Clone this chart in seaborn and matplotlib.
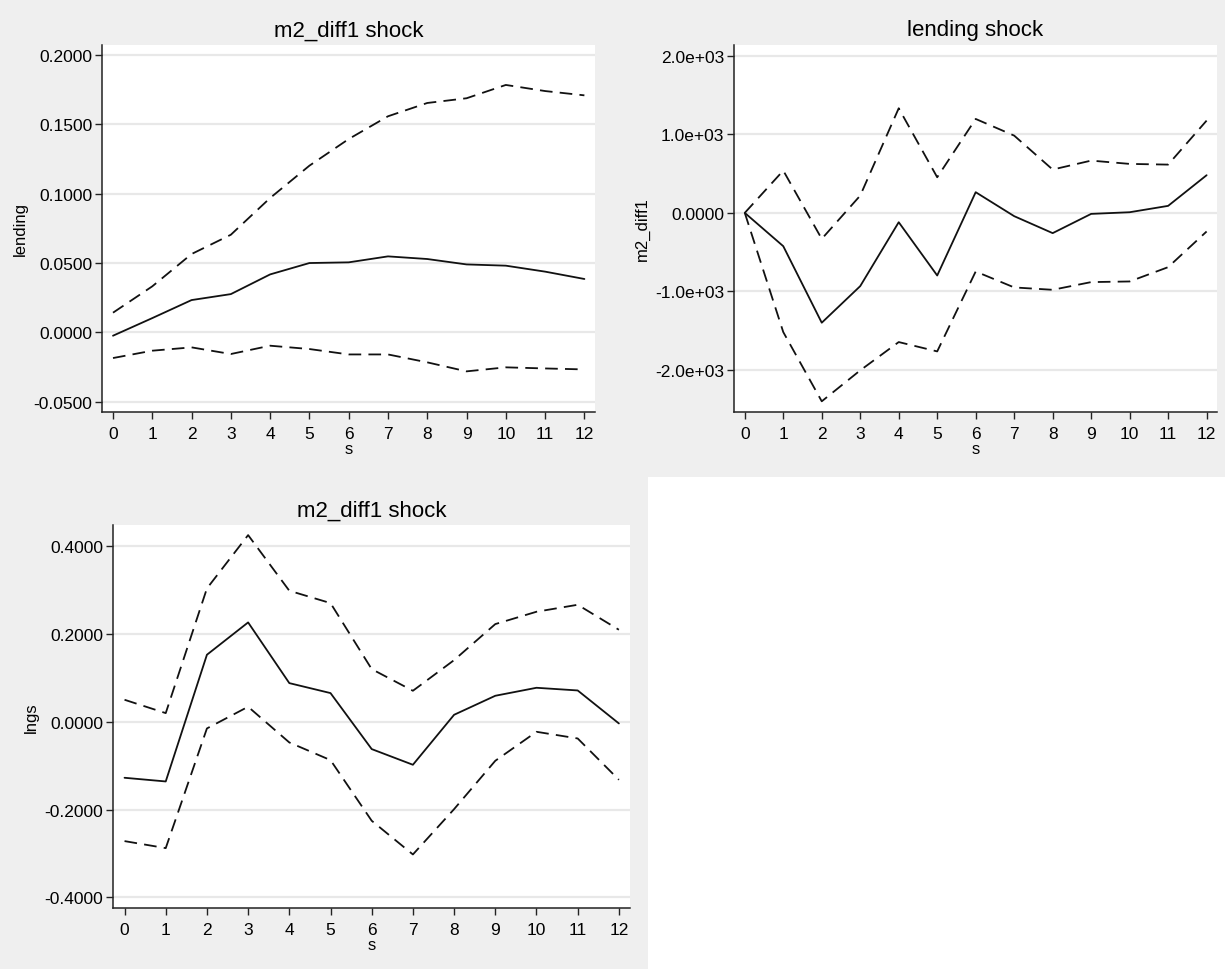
import numpy as np
import pandas as pd
import matplotlib
matplotlib.use("Agg")
import matplotlib.pyplot as plt
import matplotlib.ticker as mticker
from matplotlib.patches import Rectangle
import seaborn as sns

# horizon
steps = list(range(13))

# panel 1: m2_diff1 shock -> lending
lend_irf = [-0.0024, 0.0103, 0.0233, 0.0276, 0.0418, 0.0500, 0.0505, 0.0548,
            0.0529, 0.0490, 0.0481, 0.0438, 0.0385]
lend_hi = [0.0142, 0.0332, 0.0565, 0.0704, 0.0969, 0.1202, 0.1394, 0.1558,
           0.1654, 0.1688, 0.1784, 0.1740, 0.1709]
lend_lo = [-0.0185, -0.0132, -0.0108, -0.0156, -0.0096, -0.0120, -0.0159,
           -0.0159, -0.0216, -0.0281, -0.0252, -0.0260, -0.0267]

# panel 2: lending shock -> m2_diff1
m2_irf = [0, -424, -1398, -932, -119, -797, 263, -42, -258, -13, 8, 89, 479]
m2_hi = [0, 538, -331, 220, 1331, 453, 1195, 983, 551, 665, 623, 614, 1174]
m2_lo = [0, -1517, -2398, -2004, -1644, -1763, -746, -949, -979, -881, -873,
         -691, -237]

# panel 3: m2_diff1 shock -> lngs
lngs_irf = [-0.1275, -0.1359, 0.1526, 0.2262, 0.0880, 0.0653, -0.0622, -0.0979,
            0.0159, 0.0592, 0.0774, 0.0713, -0.0038]
lngs_hi = [0.0501, 0.0197, 0.3036, 0.4250, 0.2983, 0.2702, 0.1199, 0.0706,
           0.1404, 0.2224, 0.2505, 0.2664, 0.2095]
lngs_lo = [-0.2717, -0.2877, -0.0152, 0.0342, -0.0471, -0.0873, -0.2254,
           -0.3021, -0.1989, -0.0888, -0.0228, -0.0380, -0.1321]

sns.set_theme(style="white")
plt.rcParams['font.family'] = ['Liberation Sans', 'DejaVu Sans']
plt.rcParams['text.color'] = 'black'
plt.rcParams['axes.labelcolor'] = 'black'
plt.rcParams['xtick.color'] = 'black'
plt.rcParams['ytick.color'] = 'black'

W, H = 1225, 970
bg = '#efefef'
fig = plt.figure(figsize=(W / 100, H / 100), dpi=100, facecolor=bg)

# white empty area bottom-right
fig.patches.append(Rectangle((648 / W, 0), 1 - 648 / W, (H - 478) / H,
                             transform=fig.transFigure, facecolor='white',
                             edgecolor='none', zorder=0))


def px_axes(left, top, right, bottom):
    return fig.add_axes([left / W, 1 - bottom / H, (right - left) / W, (bottom - top) / H])


def fmt_m2(v, pos):
    if abs(v) < 1e-9:
        return "0.0000"
    return "%.1e" % v


panels = [
    (px_axes(102, 46, 595, 413), "m2_diff1 shock", "lending",
     lend_irf, lend_hi, lend_lo, (-0.0574, 0.2072),
     [-0.05, 0, 0.05, 0.10, 0.15, 0.20], mticker.FormatStrFormatter('%.4f')),
    (px_axes(734, 46, 1217, 413), "lending shock", "m2_diff1",
     m2_irf, m2_hi, m2_lo, (-2534, 2136),
     [-2000, -1000, 0, 1000, 2000], mticker.FuncFormatter(fmt_m2)),
    (px_axes(113, 526, 630, 909), "m2_diff1 shock", "lngs",
     lngs_irf, lngs_hi, lngs_lo, (-0.424, 0.448),
     [-0.4, -0.2, 0, 0.2, 0.4], mticker.FormatStrFormatter('%.4f')),
]

line_col = '#111111'
for ax, title, ylab, irf, hi, lo, ylim, yt, yfmt in panels:
    ax.set_facecolor('white')
    for ys in (hi, lo):
        sns.lineplot(x=steps, y=ys, ax=ax, color=line_col, linewidth=1.3,
                     linestyle=(0, (7, 4)))
    sns.lineplot(x=steps, y=irf, ax=ax, color=line_col, linewidth=1.3)

    ax.set_xlim(-0.28, 12.27)
    ax.set_ylim(*ylim)
    ax.set_xticks(steps)
    ax.set_yticks(yt)
    ax.yaxis.set_major_formatter(yfmt)
    ax.grid(axis='y', color='#e8e8e8', linewidth=1.6)
    ax.set_axisbelow(True)
    for side in ('top', 'right'):
        ax.spines[side].set_visible(False)
    for side in ('left', 'bottom'):
        ax.spines[side].set_color('#222222')
        ax.spines[side].set_linewidth(1.1)
    ax.tick_params(axis='both', direction='out', length=5, width=1.0,
                   color='#222222', labelsize=12.5, left=True, bottom=True)
    ax.tick_params(axis='y', pad=2)
    ax.tick_params(axis='x', pad=5)
    ax.set_title(title, fontsize=16, pad=7)
    ax.set_xlabel('s', fontsize=12, labelpad=0)
    ax.set_ylabel(ylab, fontsize=12, labelpad=4)

fig.savefig("out.png", dpi=100, facecolor=bg)
